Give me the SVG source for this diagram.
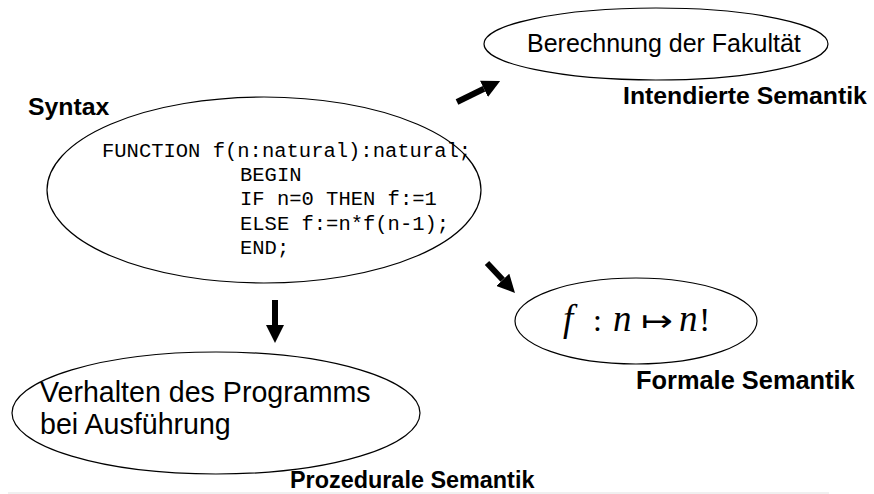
<svg xmlns="http://www.w3.org/2000/svg" width="874" height="494" viewBox="0 0 874 494">
<style>
.node{fill:#fff;stroke:#000;stroke-width:1.2}
.lbl{font-family:"Liberation Sans",Arial,sans-serif;font-weight:bold;font-size:24.8px;fill:#000}
.txt{font-family:"Liberation Sans",Arial,sans-serif;fill:#000}
.code{font-family:"Liberation Mono","Courier New",monospace;font-size:20.5px;fill:#000}
.math{font-family:"Liberation Serif","DejaVu Serif",serif;font-size:37px;fill:#000}
.conn{stroke:#000;stroke-width:6;fill:none}
</style>
<defs>
<marker id="head" viewBox="0 0 10 10" refX="0" refY="5" markerWidth="18" markerHeight="18" markerUnits="userSpaceOnUse" orient="auto">
<path d="M0,0 L10,5 L0,10 z" fill="#000"/>
</marker>
</defs>
<rect width="874" height="494" fill="#fff"/>
<rect x="8" y="492" width="821" height="2" fill="#f0f0f0"/>
<g id="syntax">
<ellipse class="node" cx="264" cy="190" rx="217" ry="93"/>
<text class="lbl" x="28" y="115">Syntax</text>
<text class="code" x="102" y="157">FUNCTION f(n:natural):natural;</text>
<text class="code" x="240" y="181">BEGIN</text>
<text class="code" x="240" y="205">IF n=0 THEN f:=1</text>
<text class="code" x="240" y="230">ELSE f:=n*f(n-1);</text>
<text class="code" x="240" y="254">END;</text>
</g>
<g id="intendiert">
<ellipse class="node" cx="656" cy="44" rx="172" ry="36"/>
<text class="txt" x="527" y="52" font-size="25">Berechnung der Fakultät</text>
<text class="lbl" x="623" y="104">Intendierte Semantik</text>
</g>
<g id="formal">
<ellipse class="node" cx="636" cy="321" rx="121" ry="43"/>
<text class="math" x="563" y="331"><tspan font-style="italic">f</tspan><tspan x="593" font-size="32">:</tspan><tspan x="613" font-style="italic">n</tspan><tspan x="679" font-style="italic">n</tspan><tspan x="699" font-size="34">!</tspan></text>
<text x="641" y="331" font-family="'DejaVu Sans',sans-serif" font-size="30" textLength="32" lengthAdjust="spacingAndGlyphs" fill="#000">↦</text>
<text class="lbl" x="636" y="389" style="font-size:25.4px">Formale Semantik</text>
</g>
<g id="prozedural">
<ellipse class="node" cx="216" cy="413" rx="204" ry="61"/>
<text class="txt" x="40" y="402" font-size="28.6">Verhalten des Programms</text>
<text class="txt" x="40" y="434" font-size="28.6">bei Ausführung</text>
<text class="lbl" x="290" y="488" style="font-size:23.4px">Prozedurale Semantik</text>
</g>
<g id="connectors">
<line class="conn" x1="457" y1="102" x2="484" y2="88.8" marker-end="url(#head)"/>
<line class="conn" x1="487" y1="263" x2="502.7" y2="279.8" marker-end="url(#head)"/>
<line class="conn" x1="275" y1="300" x2="275" y2="325" marker-end="url(#head)"/>
</g>
</svg>
